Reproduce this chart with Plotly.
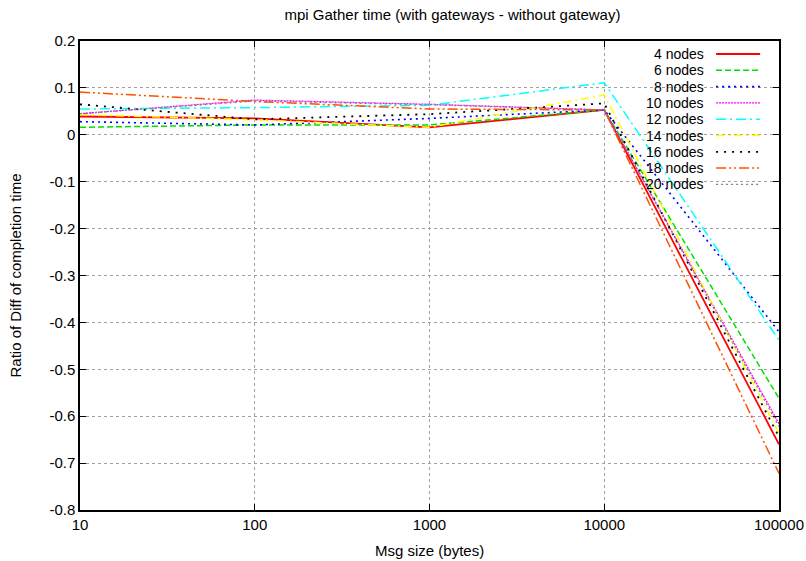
import plotly.graph_objects as go

msg_sizes = [10, 100, 1000, 10000, 100000]
x_tick_labels = ["10", "100", "1000", "10000", "100000"]
y_ticks = [0.2, 0.1, 0, -0.1, -0.2, -0.3, -0.4, -0.5, -0.6, -0.7, -0.8]
y_tick_labels = ["0.2", "0.1", "0", "-0.1", "-0.2", "-0.3", "-0.4", "-0.5", "-0.6", "-0.7", "-0.8"]

series_names = ["4 nodes", "6 nodes", "8 nodes", "10 nodes", "12 nodes",
                "14 nodes", "16 nodes", "18 nodes", "20 nodes"]

nodes_4 = [0.039, 0.035, 0.016, 0.053, -0.660]
nodes_6 = [0.016, 0.021, 0.021, 0.053, -0.562]
nodes_8 = [0.028, 0.021, 0.035, 0.053, -0.420]
nodes_10 = [0.045, 0.074, 0.065, 0.053, -0.616]
nodes_12 = [0.055, 0.058, 0.063, 0.111, -0.438]
nodes_14 = [0.043, 0.032, 0.016, 0.085, -0.636]
nodes_16 = [0.065, 0.033, 0.044, 0.067, -0.644]
nodes_18 = [0.091, 0.071, 0.055, 0.053, -0.722]
nodes_20 = [0.045, 0.072, 0.064, 0.053, -0.622]

series_values = [nodes_4, nodes_6, nodes_8, nodes_10, nodes_12,
                 nodes_14, nodes_16, nodes_18, nodes_20]

colors = ["#ff0000", "#00e000", "#0000ff", "#ff00ff", "#00ffff",
          "#ffff00", "#000000", "#ff5000", "#808080"]
dashes = ["solid", "6px,3px", "2px,4px", "2px,1px", "10px,4px,2px,4px",
          "8px,4px,2px,4px", "2px,6px", "10px,3px,2px,3px,2px,3px", "2px,3px"]
widths = [1.8, 1.5, 1.6, 1.3, 1.5, 1.5, 1.8, 1.5, 1.3]

FONT = "Liberation Sans, Arial, Helvetica, sans-serif"
W, H = 806, 561
L, R, T, B = 80, 27, 41, 51
PW, PH = W - L - R, H - T - B

fig = go.Figure()
for name, vals, c, d, w in zip(series_names, series_values, colors, dashes, widths):
    fig.add_trace(go.Scatter(x=msg_sizes, y=vals, mode="lines", name=name,
                             line=dict(color=c, dash=d, width=w),
                             showlegend=False))

# gnuplot-style key: text then line sample, top-right inside plot
annotations = []
shapes = []
for i, (name, c, d, w) in enumerate(zip(series_names, colors, dashes, widths)):
    ypix = 54 + 16.3 * i
    yp = (H - B - ypix) / PH
    annotations.append(dict(x=0.894, y=yp, xref="paper", yref="paper",
                            text=name, showarrow=False, xanchor="right",
                            yanchor="middle", borderpad=0,
                            font=dict(size=14, color="#000000", family=FONT)))
    shapes.append(dict(type="line", xref="paper", yref="paper",
                       x0=0.91, x1=0.973, y0=yp, y1=yp,
                       line=dict(color=c, dash=d, width=w)))

# axis titles placed like gnuplot
annotations.append(dict(x=0.5, y=-(550 - (H - B)) / PH, xref="paper", yref="paper",
                        text="Msg size (bytes)", showarrow=False,
                        xanchor="center", yanchor="middle",
                        font=dict(size=15, family=FONT)))
annotations.append(dict(x=-(L - 15) / PW, y=0.5, xref="paper", yref="paper",
                        text="Ratio of Diff of completion time", showarrow=False,
                        textangle=-90, xanchor="center", yanchor="middle",
                        font=dict(size=15, family=FONT)))

fig.update_layout(
    width=W, height=H,
    margin=dict(l=L, r=R, t=T, b=B),
    paper_bgcolor="white", plot_bgcolor="white",
    font=dict(family=FONT, size=15, color="#000000"),
    title=dict(text="mpi Gather time (with gateways - without gateway)",
               x=(L + PW / 2) / W, xanchor="center", xref="paper",
               y=1 - 15 / H, yanchor="middle", yref="container",
               font=dict(size=15, family=FONT)),
    annotations=annotations,
    shapes=shapes,
    xaxis=dict(type="log", range=[1, 5], tickvals=msg_sizes, ticktext=x_tick_labels,
               showgrid=True, gridcolor="#a0a0a0", griddash="dot", gridwidth=1,
               showline=True, linecolor="black", linewidth=1.5, mirror="ticks",
               ticks="inside", ticklen=6, tickcolor="black",
               tickfont=dict(size=15), zeroline=False, automargin=False),
    yaxis=dict(range=[-0.8, 0.2], tickvals=y_ticks, ticktext=y_tick_labels,
               showgrid=True, gridcolor="#a0a0a0", griddash="dot", gridwidth=1,
               showline=True, linecolor="black", linewidth=1.5, mirror="ticks",
               ticks="inside", ticklen=6, tickcolor="black",
               tickfont=dict(size=15), zeroline=False, automargin=False),
)

fig.write_html("out.html")
